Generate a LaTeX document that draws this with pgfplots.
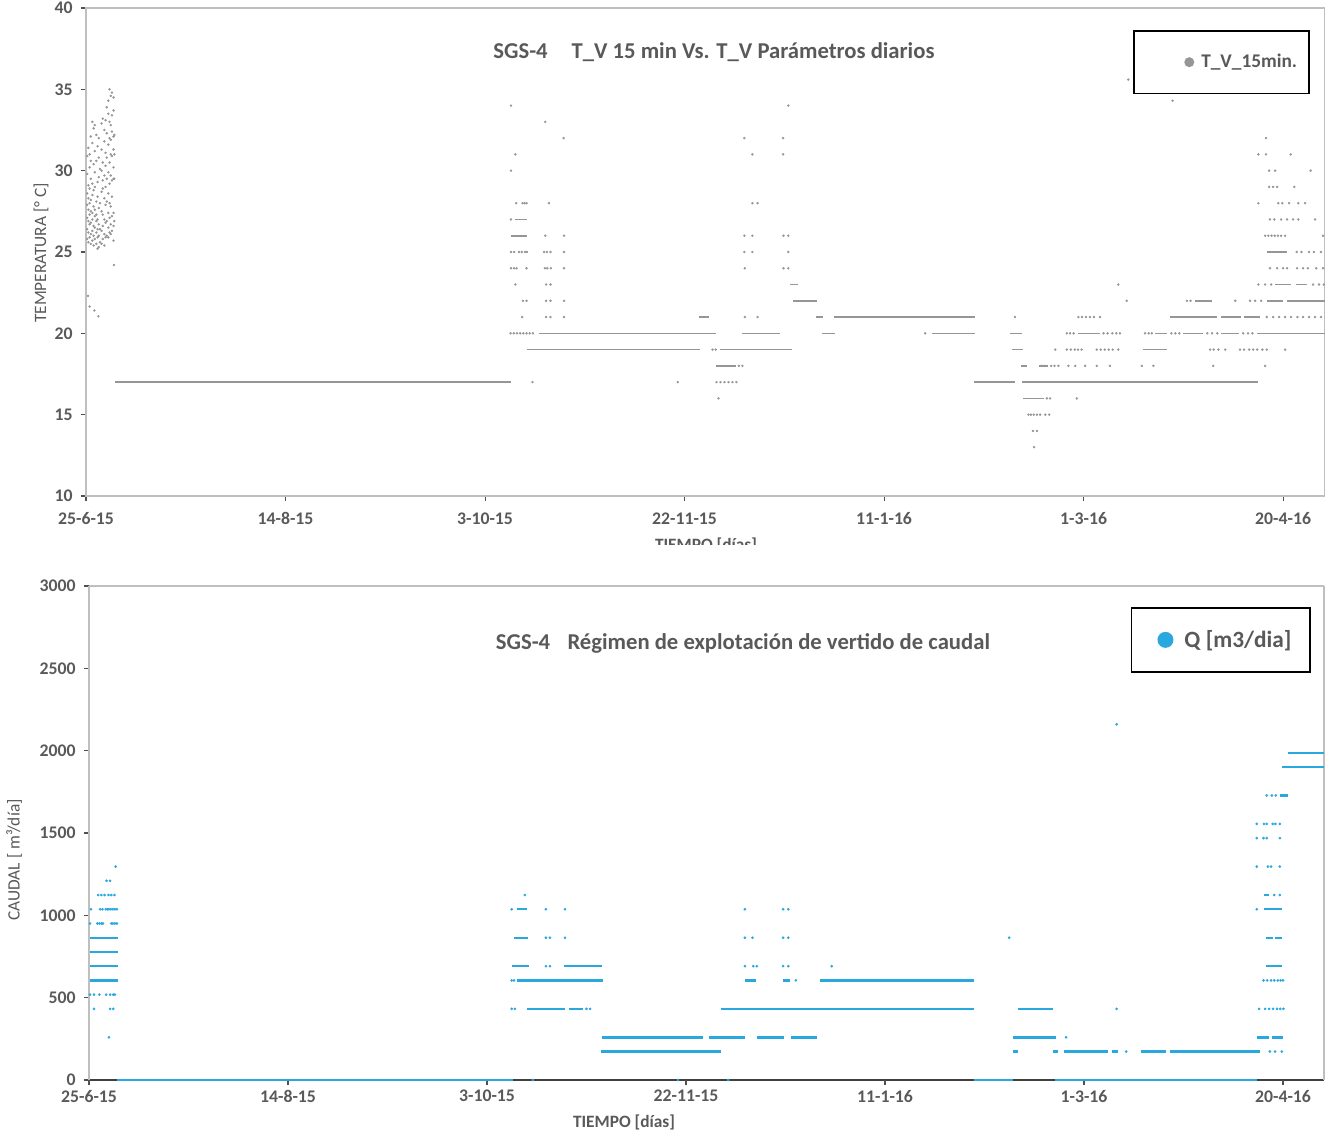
\documentclass[border=0pt]{standalone}
\usepackage{fontspec}
\setmainfont{Carlito}
\usepackage{pgfplots}
\pgfplotsset{compat=1.18}

\definecolor{txt}{RGB}{89,89,89}
\definecolor{tgray}{RGB}{150,150,150}
\definecolor{qblue}{RGB}{41,168,224}
\definecolor{framec}{RGB}{191,191,191}
\definecolor{tickc}{RGB}{80,80,80}

\pgfplotsset{
  panel/.style={
    scale only axis,
    axis line style={framec, line width=0.9pt},
    tick align=outside,
    xtick pos=bottom, ytick pos=left,
    major tick style={tickc, line width=0.8pt},
    major tick length=4pt,
    xmin=0,
    xtick={0,50,...,300},
    xticklabels={25-6-15,14-8-15,3-10-15,22-11-15,11-1-16,1-3-16,20-4-16},
    ticklabel style={font=\fontsize{13.3}{16}\selectfont\bfseries, text=txt},
    yticklabel style={xshift=-2.5pt},
    /pgf/number format/assume math mode=true,
    /pgf/number format/1000 sep={},
    unbounded coords=jump,
    clip=false,
    legend cell align=left,
  },
  dotsT/.style={only marks, mark=*, mark size=0.7pt, color=tgray},
  runT/.style={no marks, color=tgray, line width=1.2pt},
  dotsQ/.style={only marks, mark=*, mark size=0.8pt, color=qblue},
  runQ/.style={no marks, color=qblue, line width=1.8pt},
}

\begin{document}
\begin{tikzpicture}
\path[use as bounding box] (0pt,0pt) rectangle (993.75pt,850.5pt);

% ---------------- temperature panel ----------------
\begin{scope}
\clip (0pt,441.75pt) rectangle (993.75pt,850.5pt);
\begin{axis}[panel,
  at={(64.5pt,478.5pt)}, anchor=south west,
  width=929.25pt, height=366pt,
  xmax=310.5, ymin=10, ymax=40, ytick={10,15,...,40},
  xticklabel style={yshift=-5pt},
  legend style={at={(0.9879,0.9549)}, anchor=north east, draw=black, line width=1.3pt,
    fill=white, inner xsep=0pt, inner ysep=0pt,
    font=\fontsize{14.5}{17}\selectfont\bfseries, text=txt,
    nodes={inner sep=0pt, minimum height=47pt}},
]
% runs of identical readings
\addplot[runT, forget plot] coordinates {
 (7.3,17) (106.5,17) (nan,nan) (222.6,17) (232.8,17) (nan,nan) (234.5,17) (293.7,17) (nan,nan)
 (110.6,19) (153.9,19) (nan,nan) (159,19) (176.9,19) (nan,nan) (232,19) (234.9,19) (nan,nan) (265,19) (270.8,19) (nan,nan)
 (113.6,20) (158.0,20) (nan,nan) (164.5,20) (174.0,20) (nan,nan) (184.4,20) (187.7,20) (nan,nan) (212,20) (222.8,20) (nan,nan)
 (231.6,20) (234.5,20) (nan,nan) (248.5,20) (254,20) (nan,nan) (268,20) (271,20) (nan,nan) (275,20) (280,20) (nan,nan)
 (284.5,20) (289,20) (nan,nan) (293.5,20) (310.5,20) (nan,nan)
 (153.5,21) (156.2,21) (nan,nan) (182.9,21) (184.8,21) (nan,nan) (187.5,21) (222.7,21) (nan,nan)
 (271.7,21) (283.5,21) (nan,nan) (284.5,21) (289.5,21) (nan,nan) (290.2,21) (294.2,21) (nan,nan)
 (177.2,22) (183.1,22) (nan,nan) (278,22) (282.1,22) (nan,nan) (296,22) (300,22) (nan,nan) (301,22) (310.5,22) (nan,nan)
 (176.4,23) (178.4,23) (nan,nan) (298,23) (302,23) (nan,nan) (303.3,23) (306,23) (nan,nan)
 (295.9,25) (300.9,25) (nan,nan) (106.5,26) (110.6,26) (nan,nan) (107.5,27) (110.5,27) (nan,nan)
 (157.9,18) (163.0,18) (nan,nan) (234.3,18) (235.8,18) (nan,nan) (238.7,18) (241,18) (nan,nan)
 (234.9,16) (240,16)
};
% individual 15-minute readings
\addplot[dotsT, legend image code/.code={\path[draw=none,fill=none] (0pt,0pt) -- (50.25pt,0pt); \fill[tgray, draw=none] (41.25pt,0pt) circle (3.75pt);}] coordinates {
 (0.3,25.8)(0.3,26.4)(0.3,27.1)(0.3,27.9)(0.3,28.6)(0.3,29.8)(0.3,30.9)
 (0.6,25.6)(0.6,26.2)(0.6,26.9)(0.6,27.6)(0.6,28.3)(0.6,29.1)(0.6,31.4)
 (0.9,25.9)(0.9,26.7)(0.9,27.3)(0.9,28.0)(0.9,28.9)(0.9,30.2)(0.9,31.0)
 (1.2,25.5)(1.2,26.1)(1.2,26.8)(1.2,27.5)(1.2,28.2)(1.2,29.5)(1.2,30.6)(1.2,32.1)
 (1.6,25.7)(1.6,26.3)(1.6,27.0)(1.6,27.4)(1.6,28.5)(1.6,29.2)(1.6,31.7)(1.6,33.0)
 (1.9,25.4)(1.9,26.0)(1.9,26.6)(1.9,27.8)(1.9,28.8)(1.9,30.4)(1.9,32.6)
 (2.2,25.8)(2.2,26.5)(2.2,27.2)(2.2,27.6)(2.2,29.0)(2.2,29.9)(2.2,31.2)(2.2,32.8)
 (2.6,25.5)(2.6,26.2)(2.6,26.9)(2.6,27.3)(2.6,28.1)(2.6,30.6)(2.6,32.2)
 (2.9,25.2)(2.9,25.9)(2.9,26.4)(2.9,27.0)(2.9,28.4)(2.9,29.3)(2.9,31.5)
 (3.2,25.3)(3.2,26.0)(3.2,26.7)(3.2,27.7)(3.2,29.6)(3.2,30.8)(3.2,32.0)
 (3.5,25.6)(3.5,26.4)(3.5,28.0)(3.5,30.1)
 (3.9,25.5)(3.9,26.3)(3.9,27.5)(3.9,28.7)(3.9,30.0)(3.9,31.3)(3.9,32.9)
 (4.2,25.8)(4.2,26.6)(4.2,27.3)(4.2,28.9)(4.2,29.4)(4.2,30.5)(4.2,33.2)
 (4.6,25.4)(4.6,26.1)(4.6,27.0)(4.6,28.3)(4.6,29.7)(4.6,31.8)(4.6,32.5)
 (4.9,25.9)(4.9,26.8)(4.9,27.9)(4.9,29.0)(4.9,30.3)(4.9,31.1)(4.9,33.1)
 (5.2,26.0)(5.2,26.9)(5.2,28.1)(5.2,29.5)(5.2,30.8)(5.2,32.3)(5.2,33.9)
 (5.6,25.9)(5.6,26.5)(5.6,27.4)(5.6,28.6)(5.6,29.9)(5.6,31.6)(5.6,33.5)(5.6,34.3)
 (5.9,26.2)(5.9,27.1)(5.9,28.0)(5.9,29.2)(5.9,30.5)(5.9,32.0)(5.9,33.0)(5.9,35.0)
 (6.2,26.1)(6.2,26.7)(6.2,27.8)(6.2,29.7)(6.2,31.0)(6.2,31.9)(6.2,32.8)(6.2,34.6)
 (6.5,26.3)(6.5,27.2)(6.5,28.4)(6.5,29.4)(6.5,30.9)(6.5,32.4)(6.5,33.4)(6.5,34.8)
 (6.9,25.7)(6.9,26.6)(6.9,27.4)(6.9,29.5)(6.9,30.2)(6.9,31.3)(6.9,32.1)(6.9,33.7)(6.9,34.5)
 (7.1,26.9)(7.1,29.5)(7.1,31.0)(7.1,32.2)
 (0.5,22.3)(0.9,21.65)(2.1,21.4)(3.1,21.05)(7.0,24.2)
 (106.4,20)(107.2,20)(108.0,20)(108.8,20)(109.6,20)(110.4,20)(111.2,20)(112.0,20)(210.3,20)
 (245.8,20)(246.6,20)(247.5,20)(255,20)(256,20)(257.2,20)(258.2,20)(259.1,20)
 (265.4,20)(266.3,20)(267.1,20)(272,20)(273,20)(274,20)(281,20)(282.2,20)(283.5,20)(290,20)(291.2,20)(292.3,20)
 (109.3,21)(115.3,21)(116.4,21)(119.8,21)(165.1,21)(168.3,21)(232.8,21)
 (248.7,21)(249.6,21)(250.6,21)(251.6,21)(252.6,21)(254.1,21)
 (295.9,21)(297.5,21)(299,21)(300.5,21)(302,21)(303.6,21)(305,21)(306.5,21)(308,21)(309.5,21)
 (109.5,22)(110.4,22)(115.3,22)(116.4,22)(119.8,22)(260.8,22)(275.9,22)(276.8,22)(288,22)(291.7,22)(293,22)(294.5,22)
 (107.6,23)(115.3,23)(116.4,23)(258.7,23)(293.8,23)(295.5,23)(297,23)(307.5,23)(309,23)(310.2,23)
 (106.5,24)(107.3,24)(107.9,24)(110.4,24)(115.0,24)(115.6,24)(116.5,24)(119.8,24)(165.1,24)(174.8,24)(176,24)
 (296.7,24)(298.5,24)(300,24)(301,24)(303.5,24)(305,24)(306.2,24)(308.3,24)(310,24)
 (106.5,25)(107.3,25)(108.5,25)(109.2,25)(110.0,25)(110.5,25)(114.8,25)(115.5,25)(116.4,25)(119.8,25)(165,25)(167,25)(176,25)
 (303.4,25)(304.6,25)(306.5,25)(307.7,25)(309.5,25)
 (115.1,26)(119.8,26)(165,26)(167,26)(174.8,26)(176,26)
 (295.5,26)(296.3,26)(297.1,26)(297.9,26)(298.7,26)(299.5,26)(300.5,26)(310,26)
 (106.5,27)(296.7,27)(297.8,27)(299.5,27)(301,27)(302.5,27)(303.8,27)(308,27)
 (107.8,28)(109.4,28)(109.9,28)(110.4,28)(116.0,28)(167.0,28)(168.3,28)(293.8,28)(298.8,28)(299.8,28)(301.5,28)(303.8,28)(305.5,28)
 (296.5,29)(297.5,29)(298.5,29)(302.8,29)
 (106.5,30)(296.5,30)(298,30)(306.9,30)
 (107.6,31)(167.0,31)(174.7,31)(293.8,31)(295.7,31)(301.9,31)
 (119.7,32)(165.0,32)(174.7,32)(295.7,32)
 (115.1,33)(106.5,34)(176,34)
 (261.2,35.6)(273.1,35.5)(272.3,34.3)
 (157.0,19)(157.8,19)(242.9,19)(245.8,19)(246.8,19)(247.8,19)(248.6,19)(249.5,19)
 (253.3,19)(254.3,19)(255.3,19)(256.3,19)(257.3,19)(258.7,19)
 (281.7,19)(282.6,19)(283.8,19)(285.5,19)(289.2,19)(290.2,19)(291.5,19)(292.5,19)(293.5,19)(294.8,19)(295.9,19)(300.5,19)
 (163.6,18)(164.5,18)(239.5,18)(240.3,18)(241.9,18)(242.7,18)(243.7,18)(246.2,18)(247.9,18)(250.4,18)(253.3,18)(256.6,18)
 (264.6,18)(267.5,18)(282.5,18)(295.5,18)
 (111.9,17)(148.3,17)(158.0,17)(159.0,17)(160.0,17)(161.0,17)(162.0,17)(163.0,17)
 (158.5,16)(240.8,16)(241.6,16)(248.3,16)
 (236.2,15)(236.8,15)(237.5,15)(238.3,15)(239.1,15)(240.4,15)(241.4,15)
 (237.3,14)(238.3,14)(237.6,13)
};
\addlegendentry{T\_V\_15min.\rule{9pt}{0pt}}
\end{axis}
\node[anchor=base, font=\fontsize{13}{16}\selectfont\bfseries, text=txt] at (529.5pt,437.25pt) {TIEMPO [días]};
\end{scope}

\node[anchor=base, font=\fontsize{17}{20}\selectfont\bfseries, text=txt] at (535.5pt,806.25pt)
  {SGS-4\hspace{18pt}T\_V 15 min Vs. T\_V Parámetros diarios};
\node[rotate=90, font=\fontsize{13}{16}\selectfont, text=txt] at (30.75pt,660.75pt) {TEMPERATURA [° C]};

% ---------------- discharge panel ----------------
\draw[black!75, line width=1pt] (66.75pt,40.5pt) -- (993pt,40.5pt);
\begin{axis}[panel,
  at={(66.75pt,40.5pt)}, anchor=south west,
  width=926.25pt, height=370.5pt,
  xmax=310.3, ymin=0, ymax=3000, ytick={0,500,...,3000},
  separate axis lines,
  x axis line style={draw=none},
  legend style={at={(0.9895,0.9575)}, anchor=north east, draw=black, line width=1.3pt,
    fill=white, inner xsep=0pt, inner ysep=0pt,
    font=\fontsize{17.5}{21}\selectfont\bfseries, text=txt,
    nodes={inner sep=0pt, minimum height=48pt}},
]
\draw[framec, line width=0.9pt] (rel axis cs:0,1) -- (rel axis cs:1,1);
\addplot[runQ, line width=2.2pt, forget plot] coordinates {
 (7.0,0) (106.5,0) (nan,nan) (222.4,0) (232.2,0) (nan,nan) (242.7,0) (293.4,0)
};
\addplot[runQ, forget plot] coordinates {
 (0.25,864) (7.4,864) (nan,nan) (0.25,777.6) (7.2,777.6) (nan,nan)
 (0.25,691.2) (7.4,691.2) (nan,nan) (106.2,691.2) (110.6,691.2) (nan,nan) (119.3,691.2) (128.8,691.2) (nan,nan)
 (0.25,604.8) (7.4,604.8) (nan,nan) (107.5,604.8) (129.2,604.8) (nan,nan) (164.8,604.8) (167.6,604.8) (nan,nan)
 (174.4,604.8) (176.1,604.8) (nan,nan) (183.7,604.8) (222.4,604.8) (nan,nan)
 (110,432) (119.6,432) (nan,nan) (120.5,432) (124.2,432) (nan,nan) (158.8,432) (222.4,432) (nan,nan) (233.5,432) (242.1,432) (nan,nan)
 (128.8,259.2) (154.3,259.2) (nan,nan) (155.7,259.2) (164.8,259.2) (nan,nan) (167.8,259.2) (174.5,259.2) (nan,nan)
 (176.5,259.2) (182.8,259.2) (nan,nan) (232.1,259.2) (243,259.2) (nan,nan) (293.4,259.2) (296.5,259.2) (nan,nan) (297.2,259.2) (300.1,259.2) (nan,nan)
 (128.6,172.8) (158.8,172.8) (nan,nan) (232.1,172.8) (233.5,172.8) (nan,nan) (242.3,172.8) (243.5,172.8) (nan,nan)
 (245,172.8) (256,172.8) (nan,nan) (257,172.8) (258.6,172.8) (nan,nan) (264.2,172.8) (270.5,172.8) (nan,nan) (271.5,172.8) (294.2,172.8) (nan,nan)
 (107.5,1036.8) (110,1036.8) (nan,nan) (106.8,864) (110.4,864) (nan,nan)
 (295.1,1036.8) (299.7,1036.8) (nan,nan) (295.6,864) (297.5,864) (nan,nan) (298,864) (299.7,864) (nan,nan)
 (295.6,691.2) (299.7,691.2) (nan,nan) (295.1,1123.2) (296.6,1123.2) (nan,nan) (299.2,1728) (301.3,1728) (nan,nan)
 (299.8,1900.8) (310.3,1900.8) (nan,nan) (301.3,1987.2) (310.3,1987.2)
};
\addplot[dotsQ, legend image code/.code={\path[draw=none,fill=none] (0pt,0pt) -- (39.75pt,0pt); \fill[qblue, draw=none] (25.5pt,0pt) circle (6pt);}] coordinates {
 (0.25,518.4)(1.26,518.4)(2.6,518.4)(4.3,518.4)(5.3,518.4)(6.1,518.4)(6.5,518.4)
 (1.26,432)(5.3,432)(6.1,432)(5.0,259.2)
 (0.25,950.4)(2.1,950.4)(2.6,950.4)(3.1,950.4)(3.5,950.4)(5.6,950.4)(6.0,950.4)(6.5,950.4)(7.0,950.4)
 (0.5,1036.8)(2.8,1036.8)(3.4,1036.8)(4.2,1036.8)(4.6,1036.8)(5.0,1036.8)(5.5,1036.8)(6.0,1036.8)(6.5,1036.8)(7.0,1036.8)
 (2.3,1123.2)(3.1,1123.2)(3.9,1123.2)(4.9,1123.2)(5.6,1123.2)(6.4,1123.2)
 (4.4,1209.6)(5.3,1209.6)(6.7,1296)
 (111.5,0)(148,0)(160.6,0)
 (109.5,1123.2)
 (106.2,1036.8)(114.8,1036.8)(119.6,1036.8)(164.8,1036.8)(174.4,1036.8)(175.7,1036.8)
 (114.8,864)(115.8,864)(119.6,864)(164.8,864)(166.7,864)(174.4,864)(175.7,864)(231.2,864)
 (114.8,691.2)(115.8,691.2)(164.8,691.2)(166.9,691.2)(167.8,691.2)(174.4,691.2)(175.7,691.2)(186.6,691.2)
 (106.2,604.8)(106.8,604.8)(177.6,604.8)(295.1,604.8)(296,604.8)(297,604.8)(297.8,604.8)(298.7,604.8)(299.4,604.8)(300,604.8)
 (106.2,432)(107,432)(125,432)(125.9,432)(258.2,432)(294,432)(295.5,432)(296.5,432)(297.5,432)(298.5,432)(299.3,432)(300.1,432)
 (245.5,259.2)(260.6,172.8)(296.7,172.8)(298,172.8)(299.7,172.8)
 (293.4,1036.8)(297.8,1123.2)(299.2,1123.2)
 (295.9,1728)(297.2,1728)(298.2,1728)
 (293.4,1555.2)(295.2,1555.2)(295.9,1555.2)(297.4,1555.2)(298.1,1555.2)(299.2,1555.2)
 (293.4,1468.8)(295.1,1468.8)(295.9,1468.8)(299.2,1468.8)
 (293.4,1296)(296.2,1296)(297,1296)(299.2,1296)
 (258.2,2160)
};
\addlegendentry{Q [m3/dia]\rule{14pt}{0pt}}
\end{axis}

\node[anchor=base, font=\fontsize{17}{20}\selectfont\bfseries, text=txt] at (557.25pt,363pt)
  {SGS-4\hspace{13pt}Régimen de explotación de vertido de caudal};
\node[rotate=90, font=\fontsize{13}{16}\selectfont, text=txt] at (10.5pt,205.5pt) {CAUDAL [ m³/día]};
\node[anchor=base, font=\fontsize{13}{16}\selectfont\bfseries, text=txt] at (468pt,4.5pt) {TIEMPO [días]};
\end{tikzpicture}
\end{document}
